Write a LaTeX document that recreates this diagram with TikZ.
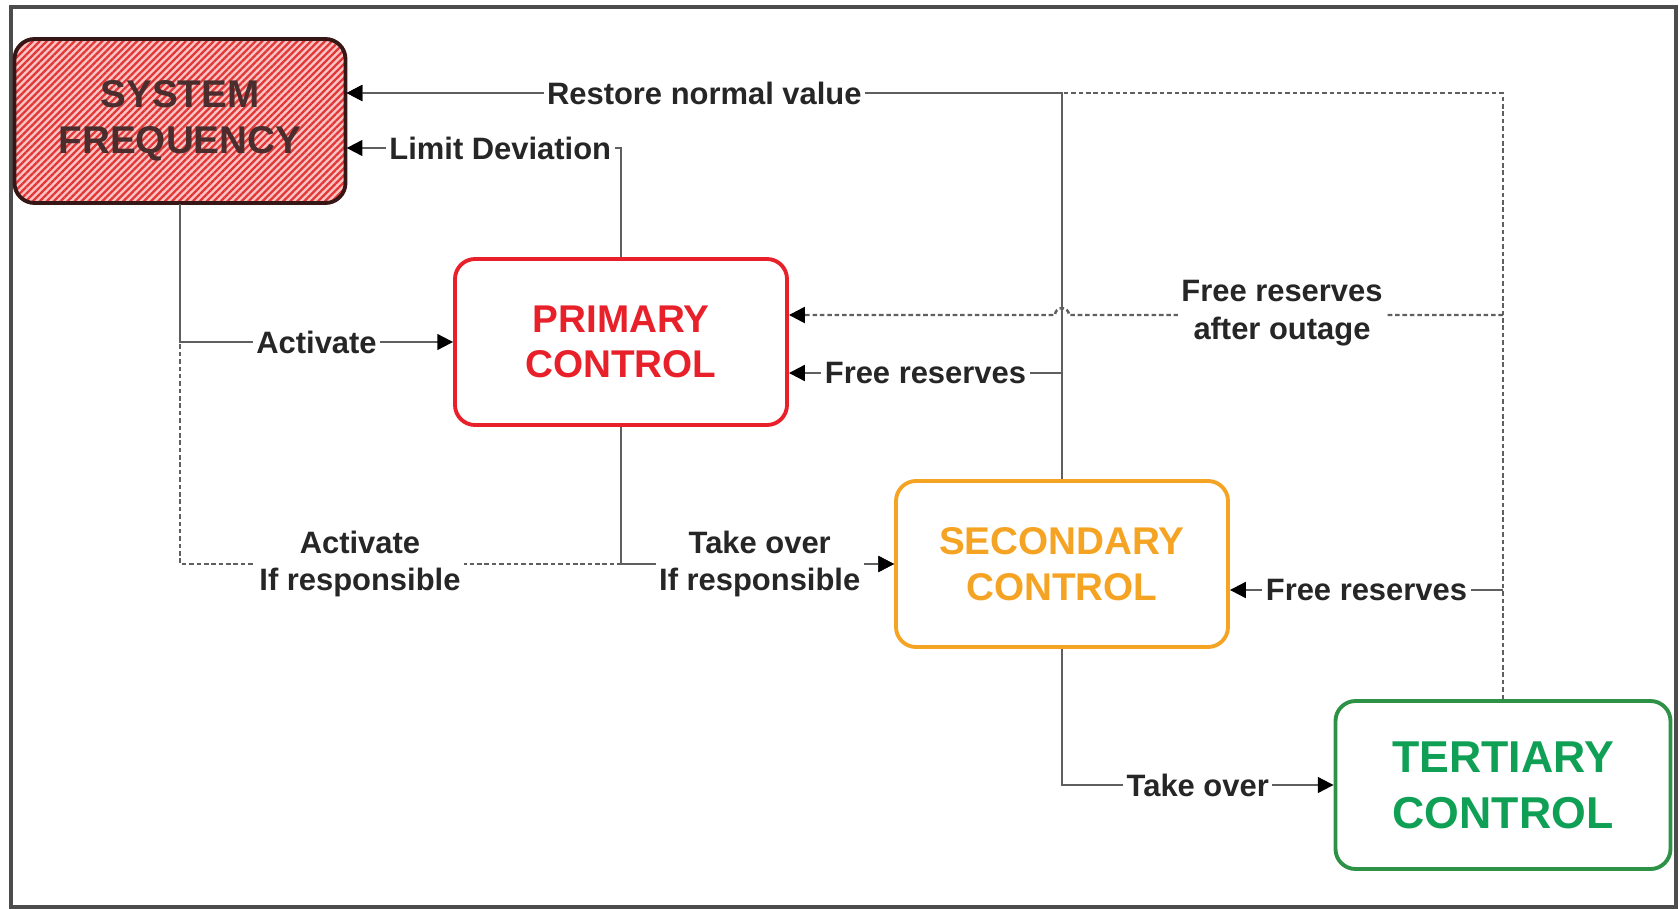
\documentclass[tikz,border=0pt]{standalone}
\usepackage{fontspec}
\setmainfont{Liberation Sans}
\usetikzlibrary{arrows.meta,patterns.meta}

\definecolor{prired}{RGB}{232,32,42}
\definecolor{secorange}{RGB}{245,163,35}
\definecolor{terline}{RGB}{45,145,70}
\definecolor{tertext}{RGB}{15,160,85}
\definecolor{freqline}{RGB}{55,22,22}
\definecolor{freqfill}{RGB}{252,196,196}
\definecolor{freqstripe}{RGB}{225,55,55}
\definecolor{wire}{RGB}{95,95,95}

\tikzset{
	box/.style={draw, rounded corners=0.2cm, line width=1.1pt, align=center,
		font=\bfseries\fontsize{11}{13}\selectfont, inner sep=0pt,
		minimum width=3.32cm, minimum height=1.66cm, fill=white},
	conn/.style={draw=wire, line width=0.6pt,
		-{Triangle[length=4.5pt,width=4.5pt,color=black]}},
	dconn/.style={conn, line width=0.7pt, dash pattern=on 1.3pt off 0.8pt},
	lbl/.style={fill=white, inner sep=1pt, text=black!85,
		font=\bfseries\fontsize{8.8}{10.7}\selectfont, align=center}
}

\begin{document}
\begin{tikzpicture}

	\useasboundingbox (0,0) rectangle (16.79,-9.09);
	\draw[line width=1pt, black!70] (0.11,-0.07) rectangle (16.76,-9.07);

	\node[box, draw=freqline, text=freqline!90,
		preaction={fill=freqfill},
		pattern={Lines[angle=45,distance=1.4pt,line width=0.65pt]},
		pattern color=freqstripe,
		minimum width=3.31cm, minimum height=1.64cm] (sysfreq) at (1.80,-1.21) {SYSTEM\\FREQUENCY};
	\node[box, draw=prired, text=prired] (primary) at (6.21,-3.42) {PRIMARY\\CONTROL};
	\node[box, draw=secorange, text=secorange] (secondary) at (10.62,-5.64) {SECONDARY\\CONTROL};
	\node[box, draw=terline, text=tertext, minimum width=3.35cm, minimum height=1.68cm,
		font=\bfseries\fontsize{12.7}{15.9}\selectfont] (tertiary) at (15.03,-7.85) {TERTIARY\\CONTROL};

	\coordinate (restore) at ([yshift=2.8mm]sysfreq.east);
	\coordinate (limit) at ([yshift=-2.7mm]sysfreq.east);
	\coordinate (outage) at ([yshift=2.7mm]primary.east);
	\coordinate (free) at ([yshift=-3.1mm]primary.east);
	\coordinate (freesec) at ([yshift=-2.6mm]secondary.east);
	\coordinate (hop) at (outage -| secondary.north);

	\draw[dconn] (tertiary.north) |- (restore);
	\draw[conn] (secondary.north) |- node[lbl, pos=0.75] {Restore normal value} (restore);
	\draw[conn] (primary.north) |- node[lbl, pos=0.72] {Limit Deviation} (limit);

	\draw[dconn] (sysfreq.south) |- node[lbl, pos=0.626] {Activate\\If responsible} (secondary.west);
	\draw[conn] (sysfreq.south) |- node[lbl, pos=0.75] {Activate} (primary.west);
	\draw[conn] (primary.south) |- node[lbl, pos=0.754] {Take over\\If responsible} (secondary.west);

	\draw[dconn] (outage -| tertiary.north) -- ([xshift=0.7mm]hop)
		arc[start angle=0, end angle=180, radius=0.7mm] -- (outage);
	\node[lbl] (outagelbl) at (12.82,-3.13) {Free reserves\\after outage};
	\draw[conn] (free -| secondary.north) -- node[lbl] {Free reserves} (free);
	\draw[conn] (freesec -| tertiary.north) -- node[lbl] {Free reserves} (freesec);
	\draw[conn] (secondary.south) |- node[lbl, pos=0.75] {Take over} (tertiary.west);

\end{tikzpicture}
\end{document}
